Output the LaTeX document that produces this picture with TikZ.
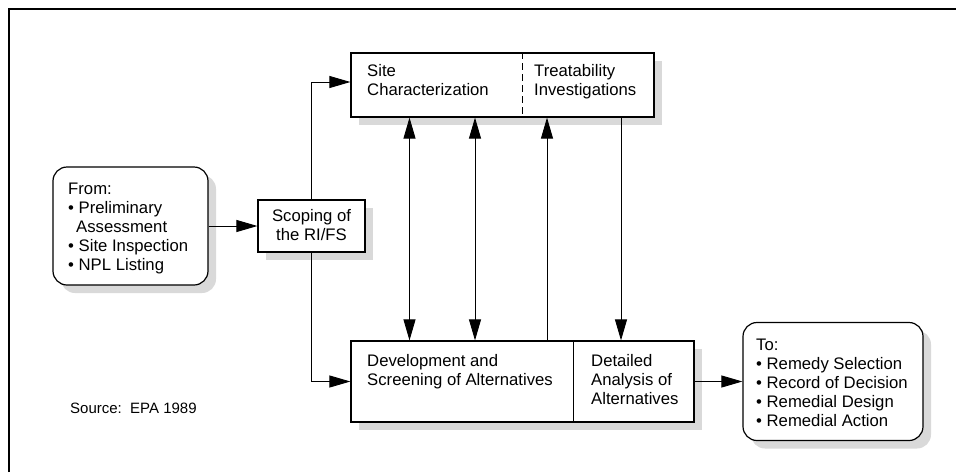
\documentclass[tikz,border=0pt]{standalone}
\usepackage{fontspec}
\setmainfont{Liberation Sans}
\usetikzlibrary{arrows.meta,calc,shadows}
\definecolor{shadegray}{HTML}{D9D9D9}
\begin{document}
\begin{tikzpicture}[x=1pt,y=-1pt,
  box/.style={draw, line width=1.2pt, fill=white, inner sep=0pt,
    drop shadow={shadow xshift=8pt, shadow yshift=-8pt, fill=shadegray, opacity=1}},
  rbox/.style={box, rounded corners=14pt},
  txt/.style={font=\fontsize{16.7}{19}\selectfont, inner sep=0pt, align=left, anchor=base west},
  conn/.style={line width=0.9pt},
  arr/.style={conn, -{Triangle[length=21pt,width=12pt]}},
  darr/.style={conn, {Triangle[length=21pt,width=12pt]}-{Triangle[length=21pt,width=12pt]}},
  ]
\useasboundingbox (0,0) rectangle (956,472);
% frame
\draw[line width=2pt] (9,472) -- (9,8.5) -- (956,8.5);

% boxes
\node[rbox, minimum width=155pt, minimum height=118pt] (from) at (130.5,226) {};
\node[box, minimum width=107pt, minimum height=52pt] (scope) at (311.5,226) {};
\node[box, minimum width=303pt, minimum height=64pt] (top) at (502.5,85) {};
\node[box, minimum width=343pt, minimum height=81pt] (bot) at (522.5,381.5) {};
\node[rbox, minimum width=180pt, minimum height=118pt] (to) at (833,381.5) {};

% dividers
\coordinate (topdiv) at (522.5,85);
\coordinate (botdiv) at (573,381.5);
\draw[line width=1pt, dash pattern=on 7pt off 4pt] (top.north -| topdiv) -- (top.south -| topdiv);
\draw[line width=1pt] (bot.north -| botdiv) -- (bot.south -| botdiv);

% texts (anchored at the baseline of the last line)
\node[txt] (fromtxt) at (68,270) {From:\\• Preliminary\\\hspace*{8pt}Assessment\\• Site Inspection\\• NPL Listing};
\node[txt, align=center, anchor=base] (scopetxt) at (311.5,240.5) {Scoping of\\the RI/FS};
\node[txt] (sitetxt) at (367,95) {Site\\Characterization};
\node[txt] (treattxt) at (534,95) {Treatability\\Investigations};
\node[txt] (devtxt) at (367,385) {Development and\\Screening of Alternatives};
\node[txt] (dettxt) at (591,404) {Detailed\\Analysis of\\Alternatives};
\node[txt] (totxt) at (756,426.5) {To:\\• Remedy Selection\\• Record of Decision\\• Remedial Design\\• Remedial Action};
\node[font=\fontsize{15}{18}\selectfont, inner sep=0pt, anchor=base west] (src) at (70,413) {Source:\ \ EPA 1989};

% connectors
\coordinate (topin) at ($(top.west)+(0,-3)$);
\draw[arr] (from.east) -- (from.east -| scope.west);
\draw[arr] (scope.north) |- (topin);
\draw[arr] (scope.south) |- (bot.west);
\draw[arr] (bot.east) -- (bot.east -| to.west);

\coordinate (c1) at (409.5,0);
\coordinate (c2) at (475,0);
\coordinate (c3) at (547,0);
\coordinate (c4) at (621,0);
\draw[darr] (top.south -| c1) -- (bot.north -| c1);
\draw[darr] (top.south -| c2) -- (bot.north -| c2);
\draw[arr] (bot.north -| c3) -- (top.south -| c3);
\draw[arr] (top.south -| c4) -- (bot.north -| c4);
\end{tikzpicture}
\end{document}
